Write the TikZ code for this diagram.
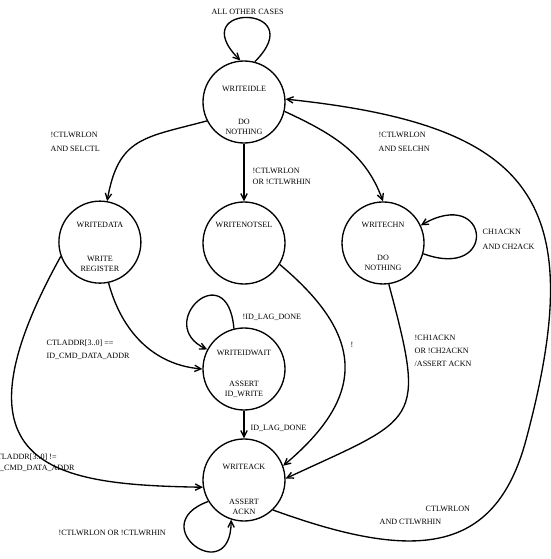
\documentclass[tikz,border=0pt]{standalone}
\usepackage{fontspec}
\setmainfont{Liberation Serif}
\usetikzlibrary{arrows.meta}
\tikzstyle{st}=[shape=circle,
	        draw=black,
	        line width=1.9pt,
	        minimum size=4.1cm,
	        inner sep=0pt]
\tikzstyle{tx}=[font=\fontsize{11.5}{14.2}\selectfont, align=center, inner sep=0pt]
\tikzstyle{lbl}=[font=\fontsize{11.5}{18}\selectfont, align=left, inner sep=0pt, anchor=west]

\begin{document}
\begin{tikzpicture}[line width=1.9pt, >={Straight Barb[length=9pt,width=9pt]}]
\useasboundingbox (-12.2,-22.85) rectangle (15.3,5.1);

% WRITEIDLE at origin, other states placed relative to it
\node[st] (idle) at (0,0) {};
\path (idle) ++(-135.8:10.05) node (data) [st] {};
\path (idle) ++(-90:7.05) node (notsel) [st] {};
\path (idle) ++(-45.4:9.9) node (chn) [st] {};
\path (notsel) ++(-90:6.3) node (idwait) [st] {};
\path (idwait) ++(-90:5.55) node (ack) [st] {};

% state names and actions inside the circles
\path (idle) ++(0,0.65) node (idle-n) [tx] {WRITEIDLE};
\path (idle) ++(0,-1.25) node (idle-a) [tx] {DO\\NOTHING};
\path (data) ++(0,0.85) node (data-n) [tx] {WRITEDATA};
\path (data) ++(0,-1.075) node (data-a) [tx] {WRITE\\REGISTER};
\path (notsel) ++(0,0.9) node (notsel-n) [tx] {WRITENOTSEL};
\path (chn) ++(0,0.9) node (chn-n) [tx] {WRITECHN};
\path (chn) ++(0,-1.0) node (chn-a) [tx] {DO\\NOTHING};
\path (idwait) ++(0,0.8) node (idwait-n) [tx] {WRITEIDWAIT};
\path (idwait) ++(0,-1.025) node (idwait-a) [tx] {ASSERT\\ID\_WRITE};
\path (ack) ++(0,0.65) node (ack-n) [tx] {WRITEACK};
\path (ack) ++(0,-1.35) node (ack-a) [tx] {ASSERT\\ACKN};

% transitions
\draw[->] (idle.75) .. controls +(45:4.1) and +(135:4.1) .. node (l-all) [lbl, anchor=south, yshift=3pt] {ALL OTHER CASES} (idle.95);
\draw[->] (idle.207) to[out=195,in=80,looseness=1.3] (data.80);
\draw[->] (idle) -- (notsel);
\draw[->] (idle.-13) to[out=-25,in=110] (chn.90);
\draw[->] (chn.-15) .. controls +(-20:4) and +(30:4) .. (chn.25);
\draw[->] (data.-78) to[out=-75,in=175] (idwait.180);
\draw[->] (data.200) .. controls +(241:12.3) and +(179:7.2) .. (ack.190);
\draw[->] (notsel.-31) to[out=-40,in=40,looseness=1.4] (ack.20);
\draw[->] (chn.-82) to[out=-75,in=25,looseness=1.7] (ack.2);
\draw[->] (idwait.104) .. controls +(95:3.75) and +(155:3) .. (idwait.152);
\draw[->] (idwait) -- (ack);
\draw[->] (ack.211) .. controls +(200:3.5) and +(-90:3.5) .. (ack.252);

% long way back from WRITEACK to WRITEIDLE
\coordinate (jback) at (14.1,-16.9);
\draw[->] (ack.-46) .. controls +(-20:7.5) and +(255:6) .. (jback)
  .. controls +(75:12.4) and +(-6:12.5) .. (idle.4);

% transition conditions
\node[lbl] (l-selctl) at (-9.7,-2.0) {!CTLWRLON\\[2pt]AND SELCTL};
\node[lbl] (l-selchn) at (6.7,-2.0) {!CTLWRLON\\[2pt]AND SELCHN};
\node[lbl] (l-notsel) at (0.4,-3.725) {!CTLWRLON\\[-2.4pt]OR !CTLWRHIN};
\node[lbl] (l-eq) at (-9.9,-12.375) {CTLADDR[3..0] ==\\[0.5pt]ID\_CMD\_DATA\_ADDR};
\node[lbl] (l-ne) at (-12.65,-18.025) {CTLADDR[3..0] !=\\[-2.4pt]ID\_CMD\_DATA\_ADDR};
\node[lbl] (l-lagn) at (-0.1,-10.75) {!ID\_LAG\_DONE};
\node[lbl] (l-lag) at (0.3,-16.3) {ID\_LAG\_DONE};
\node[lbl] (l-bang) at (5.3,-12.15) {!};
\node[lbl] (l-chack) at (8.5,-12.45) {!CH1ACKN\\[0.5pt]OR !CH2ACKN\\[0.5pt]/ASSERT ACKN};
\node[lbl] (l-chloop) at (11.9,-6.875) {CH1ACKN\\[3pt]AND CH2ACK};
\node[lbl] (l-ackloop) at (-9.3,-21.55) {!CTLWRLON OR !CTLWRHIN};
\node[lbl] (l-back) at (6.75,-20.675) {\hspace*{2.3cm}CTLWRLON\\[0.5pt]AND CTLWRHIN};

\end{tikzpicture}
\end{document}
